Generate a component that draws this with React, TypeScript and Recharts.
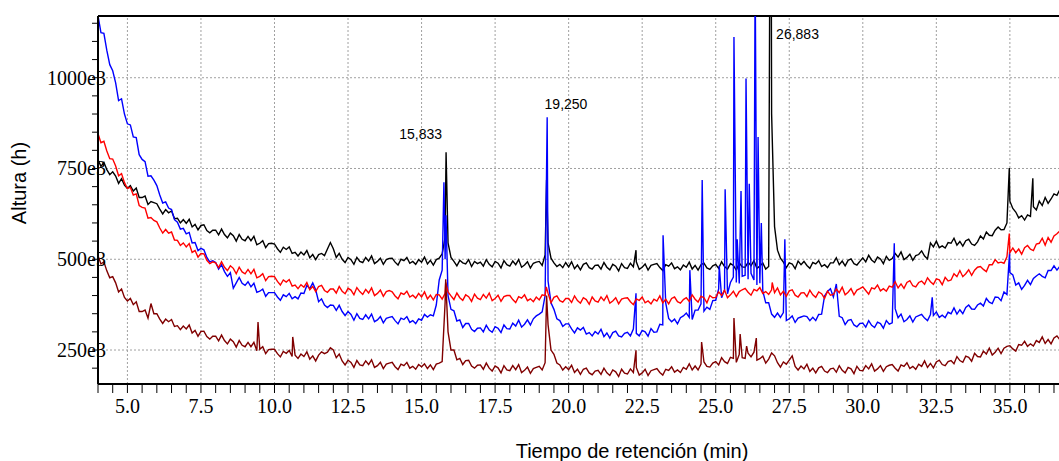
import { LineChart, Line, XAxis, YAxis, ReferenceLine, ReferenceDot } from "recharts"

// sampling grid of the traces (minutes)
const T_START = 4.0
const T_STEP = 0.1

// heights in units of 1e3, one row per minute (4.0 ... 36.7)
const black = [
  774, 756, 767, 747, 733, 741, 729, 709, 722, 704,
  695, 703, 688, 696, 670, 670, 674, 651, 659, 656,
  653, 638, 625, 637, 628, 633, 612, 613, 600, 609,
  599, 610, 589, 596, 581, 593, 595, 579, 573, 580,
  580, 567, 583, 568, 559, 572, 565, 550, 568, 555,
  551, 563, 551, 563, 540, 544, 551, 532, 543, 544,
  542, 529, 519, 533, 527, 534, 516, 519, 509, 520,
  512, 524, 504, 513, 499, 513, 516, 510, 528, 546,
  529, 505, 516, 500, 491, 505, 499, 486, 505, 494,
  491, 505, 495, 509, 488, 494, 503, 486, 499, 502,
  503, 492, 484, 500, 496, 505, 489, 494, 486, 499,
  492, 506, 487, 497, 484, 499, 503, 515, 560, 545,
  505, 494, 482, 497, 490, 487, 499, 480, 494, 488,
  492, 481, 499, 486, 479, 494, 489, 476, 496, 485,
  481, 495, 485, 499, 478, 484, 493, 476, 489, 492,
  494, 483, 512, 545, 503, 490, 480, 486, 477, 491,
  479, 493, 474, 484, 471, 486, 490, 477, 473, 483,
  484, 473, 491, 478, 471, 486, 481, 468, 488, 477,
  475, 489, 479, 493, 472, 478, 487, 470, 483, 486,
  488, 477, 469, 485, 481, 490, 474, 479, 471, 484,
  478, 492, 473, 483, 470, 485, 489, 476, 472, 482,
  486, 475, 493, 480, 473, 488, 483, 470, 490, 479,
  478, 492, 482, 496, 475, 481, 490, 473, 480, 900,
  590, 525, 503, 492, 477, 490, 487, 474, 495, 485,
  494, 483, 475, 491, 487, 496, 480, 485, 477, 490,
  490, 504, 485, 495, 482, 497, 501, 488, 484, 494,
  504, 493, 511, 498, 491, 506, 501, 488, 508, 497,
  502, 516, 506, 520, 499, 505, 514, 497, 510, 513,
  523, 509, 501, 545, 534, 550, 532, 537, 531, 546,
  544, 558, 539, 549, 536, 551, 555, 542, 538, 548,
  564, 556, 575, 566, 565, 580, 589, 581, 582, 600,
  660, 640, 630, 614, 620, 608, 622, 618, 645, 636,
  660, 648, 670, 654, 666, 680, 676, 692,
]

const red = [
  846, 821, 825, 798, 777, 776, 757, 730, 736, 711,
  695, 698, 677, 680, 648, 643, 641, 613, 615, 607,
  603, 586, 572, 582, 572, 575, 553, 552, 538, 545,
  534, 543, 519, 524, 506, 516, 515, 497, 488, 493,
  490, 477, 493, 478, 469, 482, 475, 460, 478, 465,
  460, 472, 460, 472, 449, 453, 460, 441, 452, 453,
  452, 439, 429, 443, 437, 444, 426, 429, 419, 430,
  423, 436, 416, 425, 411, 425, 428, 414, 409, 418,
  418, 407, 425, 412, 405, 420, 415, 402, 422, 411,
  403, 417, 407, 421, 400, 406, 415, 398, 411, 414,
  410, 399, 391, 407, 403, 412, 396, 401, 393, 406,
  396, 410, 391, 401, 388, 403, 402, 390, 406, 410,
  399, 389, 407, 394, 387, 402, 397, 384, 404, 393,
  389, 403, 393, 407, 386, 392, 401, 384, 397, 400,
  400, 389, 381, 397, 393, 402, 386, 391, 383, 396,
  388, 402, 400, 406, 380, 395, 399, 386, 382, 392,
  392, 381, 399, 386, 379, 394, 389, 376, 396, 385,
  382, 396, 386, 400, 379, 385, 394, 377, 390, 393,
  394, 383, 375, 391, 387, 396, 380, 385, 377, 390,
  385, 399, 380, 390, 377, 392, 396, 383, 379, 389,
  394, 384, 402, 390, 382, 398, 394, 380, 400, 394,
  395, 410, 400, 415, 394, 402, 412, 397, 411, 416,
  420, 409, 401, 417, 413, 422, 406, 411, 403, 416,
  408, 421, 402, 412, 398, 413, 416, 401, 396, 407,
  408, 397, 415, 402, 395, 410, 405, 392, 412, 401,
  403, 418, 408, 423, 402, 409, 419, 402, 415, 419,
  424, 414, 404, 421, 418, 429, 413, 419, 412, 426,
  423, 438, 421, 432, 420, 436, 441, 427, 424, 436,
  440, 431, 449, 438, 431, 446, 443, 430, 450, 440,
  443, 460, 452, 469, 452, 460, 471, 456, 470, 478,
  480, 472, 466, 485, 485, 499, 490, 492, 489, 507,
  518, 531, 518, 528, 514, 532, 538, 528, 524, 542,
  544, 558, 539, 560, 547, 564, 570, 578,
]

const blue = [
  1171, 1124, 1122, 1075, 1036, 1019, 986, 937, 942, 900,
  873, 870, 837, 835, 788, 775, 769, 729, 730, 718,
  703, 677, 655, 658, 641, 637, 609, 602, 583, 585,
  570, 574, 545, 546, 524, 530, 526, 505, 493, 496,
  491, 473, 485, 466, 453, 463, 420, 435, 450, 434,
  428, 438, 424, 434, 409, 412, 418, 398, 408, 408,
  408, 396, 387, 402, 397, 406, 391, 397, 391, 407,
  406, 428, 419, 435, 416, 383, 391, 374, 367, 374,
  373, 359, 373, 356, 345, 356, 348, 332, 350, 337,
  334, 347, 336, 349, 328, 333, 342, 325, 337, 340,
  342, 331, 322, 338, 334, 342, 326, 331, 323, 336,
  332, 348, 341, 347, 344, 374, 443, 470, 500, 400,
  362, 358, 330, 333, 312, 323, 323, 307, 301, 310,
  311, 300, 318, 305, 299, 314, 310, 298, 319, 309,
  308, 324, 316, 332, 313, 321, 333, 319, 336, 344,
  349, 355, 400, 440, 380, 362, 336, 331, 315, 322,
  322, 308, 297, 311, 305, 312, 294, 298, 289, 301,
  294, 307, 287, 297, 283, 298, 302, 289, 286, 296,
  299, 289, 308, 296, 289, 304, 300, 288, 309, 299,
  300, 321, 319, 380, 337, 328, 335, 322, 339, 344,
  352, 340, 334, 360, 360, 377, 357, 368, 362, 386,
  387, 418, 394, 416, 405, 436, 451, 436, 433, 453,
  456, 445, 461, 443, 429, 434, 413, 380, 380, 349,
  340, 352, 340, 353, 331, 336, 344, 326, 338, 341,
  344, 342, 331, 340, 331, 348, 349, 399, 411, 419,
  396, 432, 343, 339, 320, 332, 334, 319, 314, 323,
  324, 313, 331, 318, 312, 327, 323, 310, 331, 321,
  325, 364, 339, 349, 328, 334, 344, 327, 341, 345,
  348, 338, 331, 348, 345, 355, 340, 346, 339, 354,
  350, 366, 349, 361, 350, 367, 374, 363, 362, 374,
  379, 371, 392, 382, 378, 396, 395, 386, 410, 403,
  463, 457, 429, 435, 417, 428, 442, 430, 447, 454,
  460, 453, 449, 469, 469, 482, 470, 481,
]

const maroon = [
  510, 487, 493, 468, 449, 452, 435, 410, 418, 395,
  385, 392, 375, 383, 356, 356, 360, 338, 378, 350,
  350, 335, 323, 335, 328, 334, 315, 317, 306, 316,
  308, 319, 297, 304, 288, 301, 302, 287, 280, 288,
  288, 275, 291, 276, 267, 280, 273, 258, 276, 263,
  259, 271, 259, 271, 248, 252, 259, 240, 251, 252,
  252, 240, 231, 246, 241, 249, 232, 236, 227, 239,
  232, 245, 225, 234, 220, 236, 245, 240, 244, 256,
  250, 229, 239, 220, 209, 222, 216, 202, 221, 209,
  207, 220, 210, 223, 202, 207, 216, 199, 211, 214,
  216, 204, 196, 211, 207, 216, 200, 205, 197, 210,
  204, 212, 199, 209, 196, 211, 214, 218, 380, 300,
  250, 250, 223, 227, 210, 221, 222, 206, 200, 208,
  209, 197, 214, 200, 192, 206, 201, 187, 207, 195,
  193, 207, 196, 210, 188, 194, 203, 186, 199, 202,
  205, 195, 215, 320, 250, 238, 214, 209, 195, 204,
  196, 208, 188, 197, 183, 197, 200, 187, 182, 192,
  194, 183, 200, 187, 180, 195, 190, 177, 197, 186,
  184, 198, 188, 202, 181, 187, 197, 180, 193, 196,
  199, 188, 181, 197, 194, 204, 189, 195, 188, 202,
  197, 212, 195, 206, 195, 211, 217, 205, 203, 214,
  218, 209, 229, 218, 213, 230, 227, 216, 238, 229,
  227, 241, 231, 244, 222, 226, 233, 214, 225, 242,
  234, 215, 203, 217, 211, 222, 234, 205, 195, 206,
  198, 211, 191, 200, 187, 201, 205, 192, 188, 198,
  200, 189, 207, 194, 187, 202, 198, 185, 205, 194,
  193, 207, 198, 212, 192, 198, 207, 191, 204, 208,
  210, 200, 192, 209, 205, 215, 199, 205, 197, 211,
  205, 220, 202, 213, 201, 217, 222, 210, 207, 218,
  221, 212, 232, 221, 216, 233, 230, 219, 241, 232,
  231, 247, 239, 255, 236, 244, 255, 240, 255, 260,
  262, 253, 247, 265, 263, 274, 260, 267, 261, 276,
  271, 286, 268, 279, 267, 283, 289, 278,
]

// sharp peaks between grid samples: [time, height]
const blackPeaks: [number, number][] = [
  [15.833, 795], [19.25, 718], [22.29, 525], [26.87, 2000], [34.98, 751], [35.78, 723],
]
const redPeaks: [number, number][] = [
  [15.82, 436], [19.24, 424], [26.92, 436], [34.98, 571],
]
const bluePeaks: [number, number][] = [
  [15.76, 712], [15.83, 621], [19.27, 891], [22.29, 406], [23.21, 566], [24.12, 470],
  [24.54, 718], [25.12, 482], [25.32, 693], [25.62, 1112], [25.73, 555], [25.86, 688],
  [26.03, 998], [26.14, 708], [26.34, 1300], [26.44, 837], [26.55, 600], [27.35, 555],
  [31.07, 544], [32.36, 395], [34.99, 520],
]
const maroonPeaks: [number, number][] = [
  [9.44, 327], [10.62, 286], [15.82, 445], [19.25, 400], [22.29, 249], [24.52, 272],
  [25.62, 338], [25.83, 294], [26.05, 261], [26.38, 283],
]

const peakLabels = [
  { t: 15.833, h: 845, text: "15,833", side: "left" },
  { t: 19.25, h: 928, text: "19,250", side: "right" },
  { t: 26.883, h: 1120, text: "26,883", side: "right" },
]

const X_MAJOR = [5.0, 7.5, 10.0, 12.5, 15.0, 17.5, 20.0, 22.5, 25.0, 27.5, 30.0, 32.5, 35.0]
const Y_GRID = [250, 500, 750, 1000]
const Y_LABELS: Record<number, string> = { 250: "250e3", 500: "500e3", 750: "750e3", 1000: "1000e3" }

const xTicks: number[] = []
for (let k = 0; k <= 65; k++) xTicks.push(4 + k * 0.5)
const yTicks: number[] = []
for (let k = 0; k <= 19; k++) yTicks.push(200 + k * 50)

function toPoints(grid: number[], peaks: [number, number][]) {
  const pts = grid.map((v, i) => ({ t: Math.round((T_START + i * T_STEP) * 100) / 100, v }))
  peaks.forEach(([t, v]) => pts.push({ t, v }))
  return pts.sort((a, b) => a.t - b.t)
}

const series = [
  { name: "black", color: "#000000", pts: toPoints(black, blackPeaks) },
  { name: "blue", color: "#0000ff", pts: toPoints(blue, bluePeaks) },
  { name: "red", color: "#ff0000", pts: toPoints(red, redPeaks) },
  { name: "maroon", color: "#800000", pts: toPoints(maroon, maroonPeaks) },
]

const serif = "'Liberation Serif', 'Times New Roman', serif"
const sans = "'Liberation Sans', Arial, sans-serif"

function YTick(props: any) {
  const { y, payload } = props
  const label = Y_LABELS[payload.value]
  if (!label) return <g />
  return (
    <text x={106} y={y} textAnchor="end" dominantBaseline="central" fontFamily={serif} fontSize={20} fill="#000">
      {label}
    </text>
  )
}

export default function App() {
  return (
    <div style={{ position: "absolute", left: 0, top: 0, width: 1059, height: 461, overflow: "hidden", background: "#fff" }}>
      <LineChart width={1059} height={461} margin={{ top: 16, right: 0, bottom: 47, left: 0 }}>
        <XAxis
          dataKey="t"
          type="number"
          domain={[4, 36.67]}
          allowDataOverflow
          ticks={xTicks}
          interval={0}
          tickFormatter={(v: number) => (X_MAJOR.includes(v) ? v.toFixed(1) : "")}
          height={30}
          tickSize={9}
          tickMargin={6}
          axisLine={{ stroke: "#000", strokeWidth: 2 }}
          tickLine={{ stroke: "#000", strokeWidth: 1 }}
          tick={{ fontFamily: serif, fontSize: 20, fill: "#000" }}
        />
        <YAxis
          type="number"
          domain={[156.4, 1170]}
          allowDataOverflow
          ticks={yTicks}
          interval={0}
          width={98}
          tickSize={6}
          axisLine={{ stroke: "#000", strokeWidth: 2 }}
          tickLine={{ stroke: "#000", strokeWidth: 1 }}
          tick={<YTick />}
        />
        {X_MAJOR.map((x) => (
          <ReferenceLine key={"gx" + x} x={x} stroke="#a0a0a0" strokeWidth={1} strokeDasharray="2 2" />
        ))}
        {Y_GRID.map((y) => (
          <ReferenceLine key={"gy" + y} y={y} stroke="#a0a0a0" strokeWidth={1} strokeDasharray="2 2" />
        ))}
        <ReferenceLine y={1170} stroke="#000" strokeWidth={2} />
        {series.map((s) => (
          <Line
            key={s.name}
            data={s.pts}
            dataKey="v"
            type="linear"
            stroke={s.color}
            strokeWidth={1.4}
            dot={false}
            activeDot={false}
            isAnimationActive={false}
          />
        ))}
        {peakLabels.map((p) => (
          <ReferenceDot
            key={p.text}
            x={p.t}
            y={p.h}
            r={0}
            fill="none"
            stroke="none"
            label={{
              value: p.text,
              position: p.side as any,
              offset: p.side === "left" ? 4 : p.t > 26 ? 5 : -2,
              fontFamily: sans,
              fontSize: 14,
              fill: "#000",
            }}
          />
        ))}
      </LineChart>
      <svg width={1059} height={461} style={{ position: "absolute", left: 0, top: 0, pointerEvents: "none" }}>
        <text transform="translate(19,183) rotate(-90)" textAnchor="middle" dominantBaseline="central" fontFamily={sans} fontSize={20} fill="#000">
          Altura (h)
        </text>
        <text x={632} y={458} textAnchor="middle" fontFamily={sans} fontSize={20} fill="#000">
          Tiempo de retención (min)
        </text>
      </svg>
    </div>
  )
}
